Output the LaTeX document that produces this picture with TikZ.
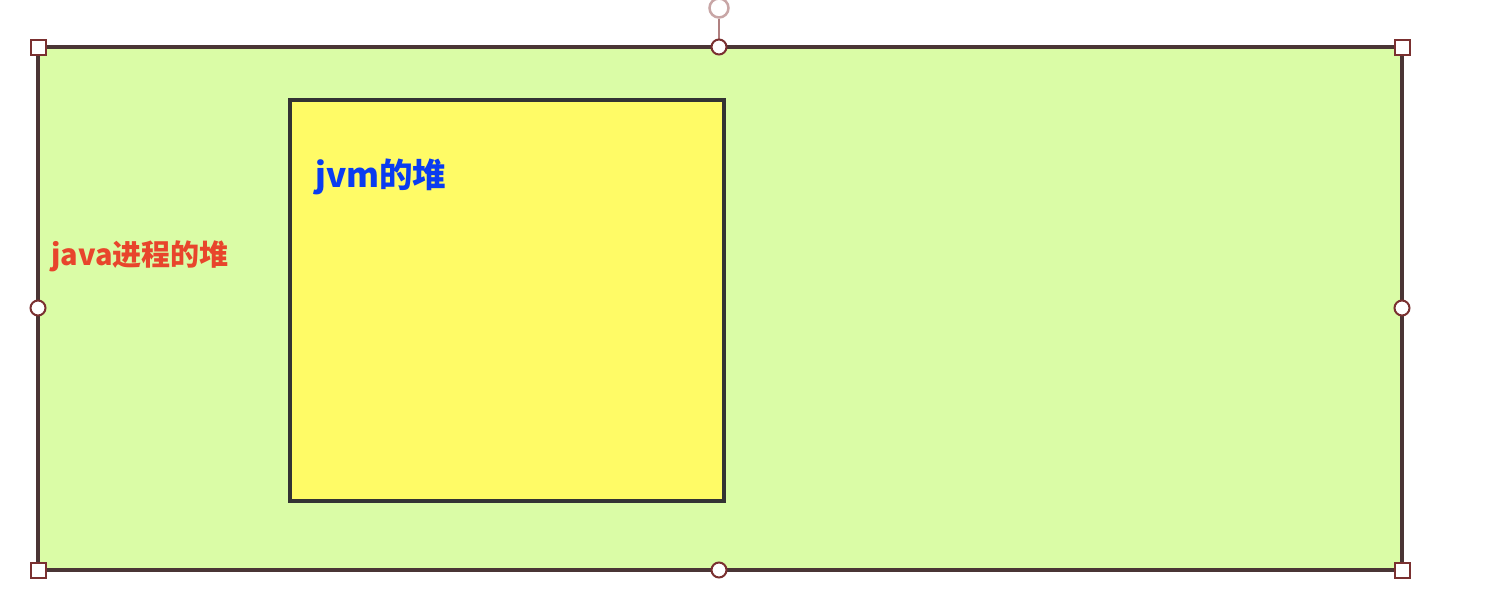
\documentclass[tikz,border=0pt]{standalone}
\usepackage{fontspec}
\newfontfamily\cjk{Noto Sans CJK SC}
\definecolor{outerfill}{HTML}{DAFCA6}
\definecolor{outerline}{HTML}{4A3535}
\definecolor{innerfill}{HTML}{FFFB66}
\definecolor{innerline}{HTML}{333333}
\definecolor{handleline}{HTML}{7A3030}
\definecolor{rotline}{HTML}{B08080}
\definecolor{redtext}{HTML}{E8452C}
\definecolor{bluetext}{HTML}{0A3CF0}
\tikzset{
  sqhandle/.style={draw=handleline, line width=2pt, fill=white, minimum size=15pt, inner sep=0pt, rectangle},
  cihandle/.style={draw=handleline, line width=2pt, fill=white, minimum size=15pt, inner sep=0pt, circle},
  lbl/.style={inner sep=0pt, anchor=west}
}
\begin{document}
\begin{tikzpicture}[x=1pt,y=-1pt]
\useasboundingbox (0,0) rectangle (1508,608);
\draw[draw=outerline, fill=outerfill, line width=3.5pt] (38,47) rectangle (1402,570);
\draw[draw=innerline, fill=innerfill, line width=3.5pt] (290,100) rectangle (724,501);
\node[lbl, text=redtext, font=\cjk\bfseries\fontsize{29}{32}\selectfont] (outerlabel) at (51,256) {java进程的堆};
\node[lbl, text=bluetext, font=\cjk\bfseries\fontsize{33.5}{36}\selectfont] (innerlabel) at (315,177) {jvm的堆};
\coordinate (tm) at (719,47);
\node[circle, draw=rotline!70, line width=2.5pt, fill=white, minimum size=19pt, inner sep=0pt] (rot) at (719,8) {};
\draw[draw=rotline, line width=2pt] (rot.south) -- (tm);
\node[sqhandle] (tl) at (38,47) {};
\node[sqhandle] (tr) at (1402,47) {};
\node[sqhandle] (bl) at (38,570) {};
\node[sqhandle] (br) at (1402,570) {};
\node[cihandle] (tmh) at (719,47) {};
\node[cihandle] (bm) at (719,570) {};
\node[cihandle] (lm) at (38,308) {};
\node[cihandle] (rm) at (1402,308) {};
\end{tikzpicture}
\end{document}
